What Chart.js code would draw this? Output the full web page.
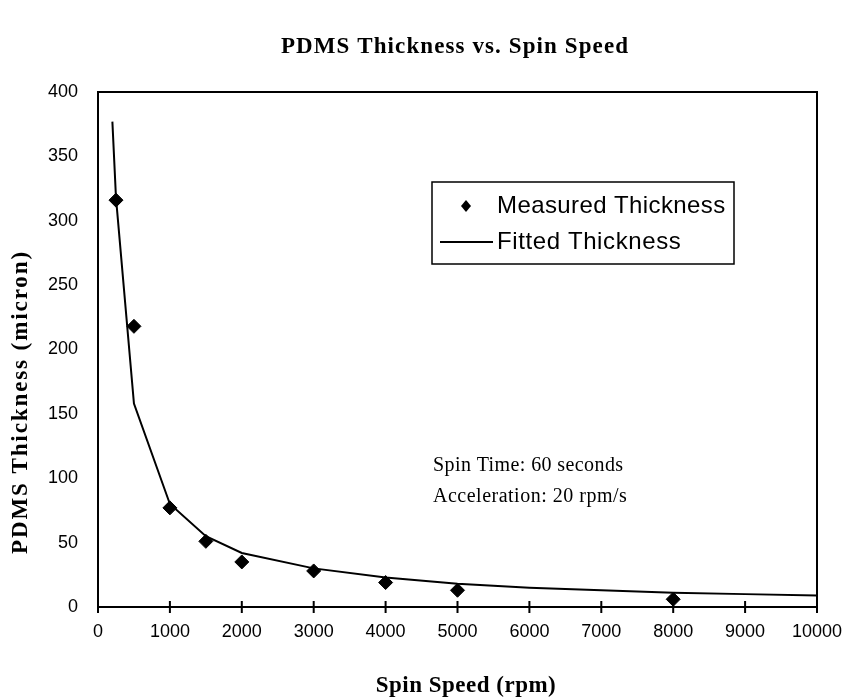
<!DOCTYPE html>
<html>
<head>
<meta charset="utf-8">
<script src="https://cdn.jsdelivr.net/npm/chart.js@4"></script>
<style>
body { margin: 0; background: #fff; }
#wrap { width: 849px; height: 698px; }
</style>
</head>
<body>
<div id="wrap"><canvas id="chart" width="849" height="698"></canvas></div>
<script>
// measured points (rpm, micron)
const measuredSpeed = [250, 500, 1000, 1500, 2000, 3000, 4000, 5000, 8000];
const measuredThickness = [316, 218, 77, 51, 35, 28, 19, 13, 6];

// fitted curve
const fittedSpeed = [200, 250, 500, 1000, 1500, 2000, 3000, 4000, 5000, 6000, 7000, 8000, 9000, 10000];
const fittedThickness = [377, 318, 158, 80, 55, 42, 30, 23, 18, 15, 13, 11, 10, 9];

const legendLabels = ['Measured Thickness', 'Fitted Thickness'];
const notes = ['Spin Time: 60 seconds', 'Acceleration: 20 rpm/s'];
const chartTitle = 'PDMS Thickness vs. Spin Speed';
const xTitle = 'Spin Speed (rpm)';
const yTitle = 'PDMS Thickness (micron)';

function toPoints(xs, ys) {
	return xs.map(function (x, i) { return { x: x, y: ys[i] }; });
}

const sans = 'Liberation Sans';
const serif = 'Liberation Serif';

function text(ctx, str, x, y, font, spacing, align) {
	ctx.font = font;
	ctx.letterSpacing = spacing + 'px';
	ctx.textAlign = align;
	ctx.textBaseline = 'middle';
	ctx.fillText(str, x, y);
}

// box around plot, legend, notes, titles
const extras = {
	id: 'extras',
	afterDraw: function (chart) {
		const ctx = chart.ctx;
		const a = chart.chartArea;
		ctx.save();
		ctx.strokeStyle = '#000';
		ctx.fillStyle = '#000';
		ctx.lineWidth = 2;
		ctx.strokeRect(a.left, a.top, a.right - a.left, a.bottom - a.top);

		// x ticks crossing the axis
		const xs = chart.scales.x;
		ctx.beginPath();
		xs.ticks.forEach(function (t) {
			const px = xs.getPixelForValue(t.value);
			ctx.moveTo(px, a.bottom - 6);
			ctx.lineTo(px, a.bottom + 6);
		});
		ctx.stroke();

		// legend box
		ctx.lineWidth = 1.5;
		ctx.strokeRect(432, 182, 302, 82);
		ctx.beginPath();
		ctx.moveTo(466, 200);
		ctx.lineTo(471, 206);
		ctx.lineTo(466, 212);
		ctx.lineTo(461, 206);
		ctx.closePath();
		ctx.fill();
		ctx.lineWidth = 2;
		ctx.beginPath();
		ctx.moveTo(440, 242);
		ctx.lineTo(493, 242);
		ctx.stroke();
		text(ctx, legendLabels[0], 497, 206, '24px "' + sans + '"', 0.4, 'left');
		text(ctx, legendLabels[1], 497, 242, '24px "' + sans + '"', 0.6, 'left');

		// notes
		text(ctx, notes[0], 433, 466, '20px "' + serif + '"', 0.4, 'left');
		text(ctx, notes[1], 433, 497, '20px "' + serif + '"', 0.5, 'left');

		// titles
		text(ctx, chartTitle, 455, 47, 'bold 23px "' + serif + '"', 1.1, 'center');
		text(ctx, xTitle, 466, 686, 'bold 23px "' + serif + '"', 0.5, 'center');
		ctx.translate(21, 402);
		ctx.rotate(-Math.PI / 2);
		text(ctx, yTitle, 0, 0, 'bold 23px "' + serif + '"', 1.9, 'center');
		ctx.restore();
	}
};

const chart = new Chart(document.getElementById('chart'), {
	type: 'scatter',
	data: {
		datasets: [{
			label: legendLabels[0],
			data: toPoints(measuredSpeed, measuredThickness),
			pointStyle: 'rectRot',
			pointRadius: 7,
			backgroundColor: '#000',
			borderColor: '#000',
			showLine: false
		},
		{
			label: legendLabels[1],
			data: toPoints(fittedSpeed, fittedThickness),
			showLine: true,
			pointRadius: 0,
			borderColor: '#000',
			borderWidth: 2,
			tension: 0
		}]
	},
	options: {
		responsive: false,
		animation: false,
		layout: { padding: { left: 0, right: 32, top: 92, bottom: 0 } },
		plugins: {
			legend: { display: false },
			tooltip: { enabled: false }
		},
		scales: {
			x: {
				type: 'linear',
				min: 0,
				max: 10000,
				ticks: {
					stepSize: 1000,
					color: '#000',
					font: { family: sans, size: 18 },
					padding: 14,
					maxRotation: 0,
					callback: function (v) { return String(v); }
				},
				grid: { drawOnChartArea: false, drawTicks: false },
				border: { color: '#000', width: 2 },
				afterFit: function (s) {
					s.height = 91;
					s.paddingLeft = 0;
					s.paddingRight = 0;
				}
			},
			y: {
				min: 0,
				max: 400,
				ticks: {
					stepSize: 50,
					color: '#000',
					font: { family: sans, size: 18 },
					padding: 20
				},
				grid: { display: false, drawTicks: false },
				border: { color: '#000', width: 2 },
				afterFit: function (s) { s.width = 98; }
			}
		}
	},
	plugins: [extras]
});
</script>
</body>
</html>
